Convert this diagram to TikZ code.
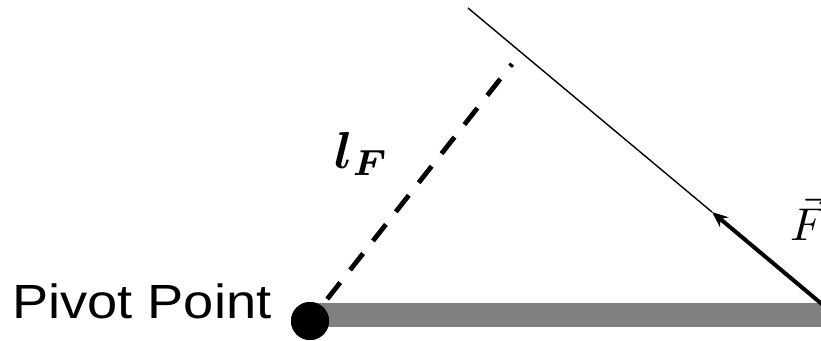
\documentclass[tikz,border=0pt]{standalone}
\usepackage{amsmath}
\usepackage{bm}
\usepackage{fontspec}
\setmainfont{Liberation Sans}
\usetikzlibrary{arrows.meta}
\definecolor{bargray}{RGB}{128,128,128}
\tikzset{
  barbox/.style={rectangle, fill=bargray, inner sep=0pt, minimum height=24pt, minimum width=520pt, anchor=west},
  pivotdot/.style={circle, fill=black, inner sep=0pt, minimum size=38pt},
  armline/.style={line width=4.8pt, dash pattern=on 21pt off 16pt, dash phase=18pt},
  forceline/.style={line width=1.4pt},
  forcearrow/.style={line width=4pt, -{Stealth[length=16pt,width=13pt]}},
  lbl/.style={inner sep=0pt}
}
\begin{document}
\begin{tikzpicture}[x=1pt,y=-1pt]
\useasboundingbox (0,0) rectangle (821,340);
\node[barbox] (bar) at (312,315) {};
\coordinate (armend) at (512,64);
\coordinate (fstart) at (468,8);
\coordinate (ftip) at (712,212);
\coordinate (fend) at (823,305);
\node[pivotdot] (pivot) at (310,321) {};
\draw[armline] (armend) -- (pivot.center);
\node[pivotdot] at (pivot.center) {};
\draw[forceline] (fstart) -- (ftip);
\draw[forcearrow] (fend) -- (ftip);
\node[lbl, anchor=base west] (pp) at (12,318) {\scalebox{1.13}[1]{\fontsize{48pt}{52pt}\selectfont Pivot Point}};
\node[lbl, anchor=base west] (lf) at (334,168) {\scalebox{5.2}{$\boldsymbol{l}_{\boldsymbol{F}}$}};
\node[lbl, anchor=base west] (fl) at (790,240) {\scalebox{4.6}{$\vec{F}$}};
\end{tikzpicture}
\end{document}
